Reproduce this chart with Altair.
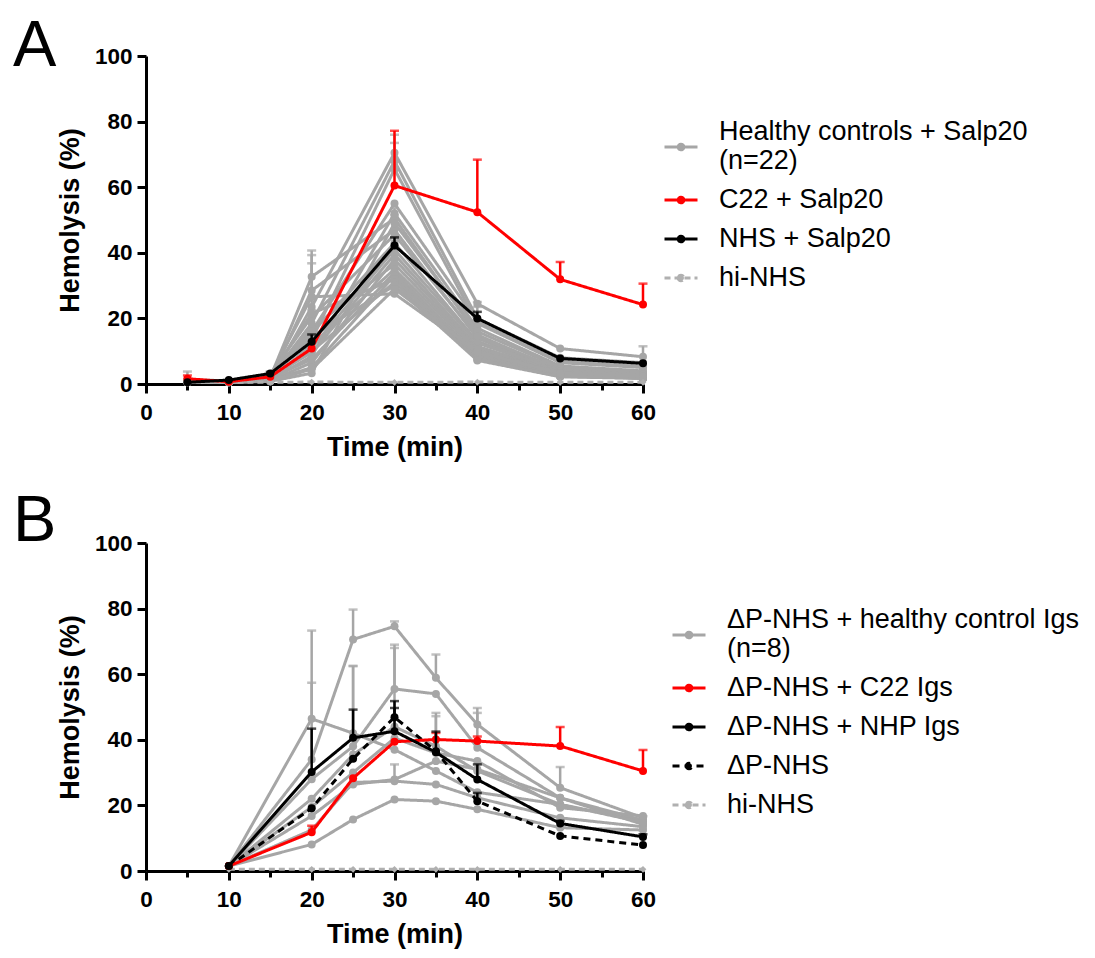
import altair as alt
import pandas as pd

FONT = "Liberation Sans"
GREY = "#a6a6a6"
LIGHT = "#b0b0b0"
RED = "#ff0000"
BLACK = "#000000"

# ---------------- Panel A data ----------------
times_a = [5, 10, 15, 20, 30, 40, 50, 60]

hc_a = [
    [1.0, 0.8, 2.0, 32.7, 50.5, 15.0, 4.0, 2.5],
    [0.8, 0.6, 1.5, 28.5, 47.0, 14.0, 3.5, 2.0],
    [1.2, 0.9, 2.5, 26.6, 27.5, 9.5, 3.0, 2.0],
    [0.5, 0.5, 1.0, 23.5, 70.5, 24.5, 10.8, 8.3],
    [0.6, 0.7, 1.8, 18.5, 68.0, 20.0, 8.0, 6.5],
    [0.9, 0.8, 2.2, 13.5, 65.5, 18.5, 6.5, 5.0],
    [0.7, 0.6, 1.2, 8.5, 52.0, 17.0, 5.5, 4.0],
    [0.5, 0.5, 0.8, 3.3, 49.0, 16.0, 5.0, 3.5],
    [1.1, 1.0, 3.0, 20.5, 45.5, 14.5, 4.5, 3.0],
    [0.8, 0.7, 2.0, 15.5, 43.0, 13.0, 4.0, 3.0],
    [0.6, 0.5, 1.5, 11.0, 41.0, 12.5, 3.8, 2.5],
    [0.9, 0.8, 2.5, 9.5, 39.5, 11.5, 3.5, 2.8],
    [0.7, 0.6, 1.0, 6.5, 38.0, 11.0, 3.2, 2.2],
    [1.0, 0.9, 2.8, 17.0, 36.5, 10.5, 3.0, 2.0],
    [0.5, 0.5, 1.3, 12.0, 35.0, 10.0, 2.8, 1.8],
    [0.8, 0.7, 1.8, 7.5, 34.0, 9.0, 2.5, 1.8],
    [0.6, 0.6, 1.1, 5.0, 33.0, 8.5, 2.6, 2.0],
    [1.3, 1.0, 2.6, 21.5, 32.0, 8.0, 2.4, 1.7],
    [0.7, 0.8, 1.6, 10.0, 31.0, 7.5, 2.3, 1.9],
    [0.9, 0.7, 2.1, 14.5, 30.0, 7.2, 2.2, 1.7],
    [0.6, 0.5, 0.9, 4.5, 29.0, 9.8, 3.3, 2.4],
    [1.0, 0.9, 2.4, 16.0, 55.0, 19.0, 7.0, 5.5],
]
hc_a_err = [
    [2.8, 0, 0, 8.0, 0, 0, 0, 0],
    [0, 0, 0, 10.8, 0, 0, 0, 0],
    [0, 0, 0, 10.2, 0, 0, 0, 0],
    [0, 0, 0, 2.1, 5.5, 0.5, 0, 3.2],
    [0, 0, 0, 4.0, 5.5, 3.5, 0, 0],
    [0, 0, 0, 0, 0, 0, 0, 0],
    [0, 0, 0, 0, 1.6, 0, 0, 0],
    [0, 0, 0, 0, 2.5, 0, 0, 0],
    [0, 0, 0, 0, 0, 0, 0, 0],
    [0, 0, 0, 0, 0, 0, 0, 0],
    [0, 0, 0, 0, 0, 0, 0, 0],
    [0, 0, 0, 0, 0, 0, 0, 0],
    [0, 0, 0, 0, 0, 0, 0, 0],
    [0, 0, 0, 0, 0, 0, 0, 0],
    [0, 0, 0, 0, 0, 0, 0, 0],
    [0, 0, 0, 0, 0, 0, 0, 0],
    [0, 0, 0, 0, 0, 0, 0, 0],
    [0, 0, 0, 0, 0, 0, 0, 0],
    [0, 0, 0, 0, 0, 0, 0, 0],
    [0, 0, 0, 0, 0, 0, 0, 0],
    [0, 0, 0, 0, 0, 0, 0, 0],
    [0, 0, 0, 0, 0, 0, 0, 0],
]
c22_a = [1.6, 0.7, 2.2, 10.8, 60.5, 52.4, 31.9, 24.2]
c22_a_err = [1.0, 0, 0, 0, 16.7, 16.0, 5.3, 6.4]
nhs_a = [0.5, 1.2, 3.2, 12.9, 42.2, 20.0, 7.8, 6.3]
nhs_a_err = [0, 0, 0.5, 2.2, 2.5, 2.0, 0, 0]
hi_a = [0.5, 0.5, 0.5, 0.6, 0.5, 0.6, 0.5, 0.5]
hi_a_err = [0, 0, 0, 0, 0, 0, 0, 0]

labels_a = ["Healthy controls + Salp20\n(n=22)", "C22 + Salp20", "NHS + Salp20", "hi-NHS"]
colors_a = [GREY, RED, BLACK, LIGHT]
dashes_a = [[1, 0], [1, 0], [1, 0], [6, 4]]

# ---------------- Panel B data ----------------
times_b = [10, 20, 25, 30, 35, 40, 50, 60]

hc_b = [
    [1.5, 34.0, 70.6, 74.6, 58.9, 44.7, 25.4, 16.2],
    [1.5, 46.4, 42.0, 37.0, 30.5, 24.0, 20.3, 15.2],
    [1.5, 28.0, 38.0, 55.5, 54.0, 37.6, 22.3, 14.2],
    [1.5, 8.1, 15.7, 21.8, 21.3, 18.8, 13.2, 12.5],
    [1.5, 16.8, 26.4, 27.9, 33.5, 31.0, 22.3, 15.5],
    [1.5, 12.5, 27.0, 27.4, 26.4, 22.3, 16.2, 13.5],
    [1.5, 22.0, 35.5, 44.0, 38.0, 30.5, 20.3, 14.8],
    [1.5, 19.5, 30.0, 40.5, 36.0, 33.5, 19.3, 16.8],
]
hc_b_err = [
    [0, 23.4, 9.1, 1.5, 7.1, 5.0, 6.3, 0.5],
    [0, 26.9, 0, 0, 0, 0, 0, 0],
    [0, 0, 24.5, 13.5, 0, 10.6, 0, 0],
    [0, 0, 0, 0, 0, 0, 0, 0],
    [0, 0, 0, 4.6, 0, 0, 0, 0],
    [0, 0, 0, 0, 0, 0, 0, 0],
    [0, 0, 27.0, 24.0, 10.2, 0, 0, 0],
    [0, 0, 0, 0, 11.2, 0, 0, 0],
]
c22_b = [1.5, 11.8, 28.3, 39.4, 40.1, 39.6, 38.1, 30.5]
c22_b_err = [0, 2.0, 0, 0, 2.0, 1.4, 5.8, 6.4]
nhp_b = [1.5, 30.2, 40.6, 42.6, 36.2, 27.9, 14.5, 10.4]
nhp_b_err = [0, 13.2, 8.6, 9.2, 6.3, 4.6, 0.8, 0.8]
dp_b = [1.5, 19.1, 34.2, 46.9, 36.5, 21.3, 10.7, 7.9]
dp_b_err = [0, 0, 0, 2.8, 0, 2.5, 0, 0]
hi_b = [0.5, 0.5, 0.5, 0.5, 0.5, 0.5, 0.5, 0.5]
hi_b_err = [0, 0, 0, 0, 0, 0, 0, 0]

labels_b = ["\u0394P-NHS + healthy control Igs\n(n=8)", "\u0394P-NHS + C22 Igs",
            "\u0394P-NHS + NHP Igs", "\u0394P-NHS", "hi-NHS"]
colors_b = [GREY, RED, BLACK, BLACK, LIGHT]
dashes_b = [[1, 0], [1, 0], [1, 0], [7, 5], [6, 4]]


def build_frame(times, groups):
    rows = []
    for key, label, series_list, err_list in groups:
        for i, (vals, errs) in enumerate(zip(series_list, err_list)):
            for t, v, e in zip(times, vals, errs):
                rows.append(dict(key=key, series=label, line=f"{key}{i}",
                                 time=t, value=v, err=e, top=v + e))
    return pd.DataFrame(rows)


df_a = build_frame(times_a, [
    ("hc", labels_a[0], hc_a, hc_a_err),
    ("hi", labels_a[3], [hi_a], [hi_a_err]),
    ("c22", labels_a[1], [c22_a], [c22_a_err]),
    ("nhs", labels_a[2], [nhs_a], [nhs_a_err]),
])
df_b = build_frame(times_b, [
    ("hc", labels_b[0], hc_b, hc_b_err),
    ("hi", labels_b[4], [hi_b], [hi_b_err]),
    ("dp", labels_b[3], [dp_b], [dp_b_err]),
    ("c22", labels_b[1], [c22_b], [c22_b_err]),
    ("nhp", labels_b[2], [nhp_b], [nhp_b_err]),
])

SYMBOL = ("M-1,0L1,0"
          "M-0.17,0A0.17,0.17,0,1,0,0.17,0A0.17,0.17,0,1,0,-0.17,0Z"
          "M-0.07,0A0.07,0.07,0,1,0,0.07,0A0.07,0.07,0,1,0,-0.07,0Z")


def panel(df, order, labels, colors, dashes, letter, lx, ly, toff):
    cscale = alt.Scale(domain=labels, range=colors)
    dscale = alt.Scale(domain=labels, range=dashes)
    leg = alt.Legend(
        title=None, orient="none", legendX=lx, legendY=ly,
        symbolType=SYMBOL, symbolSize=1089, symbolStrokeWidth=3,
        labelFont=FONT, labelFontSize=27, labelColor="black",
        labelLimit=700, labelOffset=20, rowPadding=8, padding=0,
        labelExpr="split(datum.label, '\\n')",
        labelBaseline=alt.ExprRef("indexof(datum.label, '\\n') >= 0 ? 'line-bottom' : 'middle'"),
    )
    xaxis = alt.Axis(
        values=list(range(0, 61, 5)),
        labelExpr="datum.value % 10 === 0 ? datum.label : ''",
        tickSize={"condition": {"test": "datum.value % 10 === 0", "value": 9}, "value": 6},
        title="Time (min)",
    )
    yaxis = alt.Axis(values=[0, 20, 40, 60, 80, 100], title="Hemolysis (%)")
    xs = alt.Scale(domain=[0, 60], nice=False)
    ys = alt.Scale(domain=[0, 100], nice=False)
    X = alt.X("time:Q", scale=xs, axis=xaxis)

    layers = []
    for key in order:
        base = alt.Chart().transform_filter(alt.datum.key == key)
        errs = base.transform_filter("datum.err > 0")
        layers.append(base.mark_line(strokeWidth=3).encode(
            x=X, y=alt.Y("value:Q", scale=ys, axis=yaxis), detail="line:N",
            color=alt.Color("series:N", scale=cscale, legend=leg),
            strokeDash=alt.StrokeDash("series:N", scale=dscale, legend=leg)))
        layers.append(errs.mark_rule(strokeWidth=2.5).encode(
            x=X, y=alt.Y("value:Q", scale=ys, axis=yaxis), y2="top:Q",
            color=alt.Color("series:N", scale=cscale, legend=None)))
        layers.append(errs.mark_tick(orient="horizontal", size=9, thickness=2.5).encode(
            x=X, y=alt.Y("top:Q", scale=ys, axis=yaxis),
            color=alt.Color("series:N", scale=cscale, legend=None)))
        if key == "hi":
            pts = base.mark_point(shape="diamond", filled=True, size=45, opacity=1)
        else:
            pts = base.mark_circle(size=64, opacity=1)
        layers.append(pts.encode(
            x=X, y=alt.Y("value:Q", scale=ys, axis=yaxis),
            color=alt.Color("series:N", scale=cscale, legend=None)))

    return alt.layer(*layers, data=df).properties(
        width=497, height=328,
        title=alt.TitleParams(letter, anchor="start", frame="group", fontSize=65,
                              font=FONT, fontWeight="normal", color="black",
                              dx=-133, offset=toff, baseline="alphabetic"),
    )


chart_a = panel(df_a, ["hc", "hi", "c22", "nhs"], labels_a, colors_a, dashes_a, "A", 517, 73, -86)
chart_b = panel(df_b, ["hc", "hi", "dp", "c22", "nhp"], labels_b, colors_b, dashes_b, "B", 525, 74, -74)

chart = alt.vconcat(chart_a, chart_b, spacing=28).resolve_scale(
    color="independent", strokeDash="independent"
).properties(
    padding={"left": 5, "top": 6, "right": 2, "bottom": 5}
).configure_view(stroke=None).configure_axis(
    grid=False, domainColor="black", domainWidth=3, tickColor="black", tickWidth=3,
    tickSize=9, labelFlush=False,
    labelFont=FONT, labelFontWeight="bold", labelFontSize=22.5, labelColor="black",
    titleFont=FONT, titleFontWeight="bold", titleFontSize=27, titleColor="black",
    labelPadding=5,
).configure_axisX(labelPadding=8, titlePadding=11).configure_axisY(titlePadding=10)

chart.save("out.html", embed_options={"renderer": "svg", "actions": False})
